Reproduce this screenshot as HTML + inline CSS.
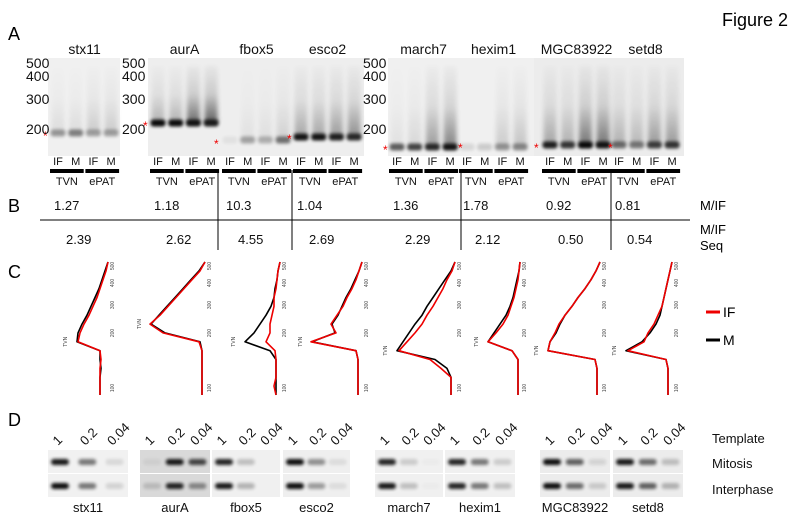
<!DOCTYPE html>
<html><head><meta charset="utf-8"><style>
body{margin:0;background:#fff;}
svg{display:block;font-family:"Liberation Sans",Arial,sans-serif;}
</style></head><body>
<svg id="fig" width="792" height="522" viewBox="0 0 792 522">
<defs>
<filter id="bl" x="-50%" y="-50%" width="200%" height="200%"><feGaussianBlur stdDeviation="1.6"/></filter>
<filter id="bl2" x="-50%" y="-50%" width="200%" height="200%"><feGaussianBlur stdDeviation="2.5"/></filter>
<linearGradient id="sg" x1="0" y1="0" x2="0" y2="1">
<stop offset="0" stop-color="#000" stop-opacity="0.05"/>
<stop offset="0.5" stop-color="#000" stop-opacity="0.25"/>
<stop offset="1" stop-color="#000" stop-opacity="1"/>
</linearGradient>
</defs>
<text x="722" y="26" font-size="18">Figure 2</text>
<text x="8" y="40" font-size="18">A</text>
<text x="8" y="212" font-size="18">B</text>
<text x="8" y="278" font-size="18">C</text>
<text x="8" y="426" font-size="18">D</text>

<rect x="48" y="58" width="72" height="98" fill="#f0f0f0"/>
<rect x="148" y="58" width="216" height="98" fill="#eeeeee"/>
<rect x="388" y="58" width="146" height="98" fill="#f0f0f0"/>
<rect x="534" y="58" width="150" height="98" fill="#ececec"/>
<g id="gelA"></g>
<g id="ladders" font-size="14" fill="#111">
<text x="26" y="68">500</text>
<text x="26" y="81">400</text>
<text x="26" y="104">300</text>
<text x="26" y="134">200</text>
<text x="122" y="68">500</text>
<text x="122" y="81">400</text>
<text x="122" y="104">300</text>
<text x="122" y="134">200</text>
<text x="363" y="68">500</text>
<text x="363" y="81">400</text>
<text x="363" y="104">300</text>
<text x="363" y="134">200</text>
</g>
<g id="geneA" font-size="14" fill="#111" text-anchor="middle"></g>
<g id="laneLbl" font-size="11" fill="#111" text-anchor="middle"></g>

<g font-size="13" fill="#111" id="rowB"></g>
<line x1="40" y1="220" x2="690" y2="220" stroke="#000" stroke-width="1"/>
<g stroke="#000" stroke-width="1">
<line x1="218" y1="170" x2="218" y2="250"/>
<line x1="292" y1="170" x2="292" y2="250"/>
<line x1="461" y1="170" x2="461" y2="250"/>
<line x1="611" y1="170" x2="611" y2="250"/>
</g>
<text x="700" y="210" font-size="13">M/IF</text>
<text x="700" y="234" font-size="13">M/IF</text>
<text x="700" y="250" font-size="13">Seq</text>

<g id="traces"></g>
<line x1="706" y1="312" x2="720" y2="312" stroke="#e00" stroke-width="3"/>
<text x="723" y="317" font-size="14">IF</text>
<line x1="706" y1="340" x2="720" y2="340" stroke="#000" stroke-width="3"/>
<text x="723" y="345" font-size="14">M</text>

<g id="gelD"></g>
<g font-size="13" fill="#111">
<text x="712" y="443">Template</text>
<text x="712" y="468">Mitosis</text>
<text x="712" y="494">Interphase</text>
</g>
</svg>
<script>
const bValues = ["1.27","1.18","10.3","1.04","1.36","1.78","0.92","0.81"];
const bSeq = ["2.39","2.62","4.55","2.69","2.29","2.12","0.50","0.54"];
const genes = ["stx11","aurA","fbox5","esco2","march7","hexim1","MGC83922","setd8"];
const traceM = [
 [0,3,6,9,13,17,21,26,30,31,8,8,7,8,8,8],
 [0,6,14,22,30,38,46,54,40,5,3,3,3,3,3,3],
 [0,2,3,5,6,9,14,20,26,35,10,4,4,4,4,4],
 [0,3,7,11,16,20,24,30,27,50,6,4,4,4,4,4],
 [0,4,10,16,22,28,33,40,46,52,58,20,8,4,4,4],
 [0,1,3,5,7,10,14,20,26,32,8,2,2,2,2,2],
 [0,4,9,15,22,28,35,40,44,50,52,5,3,3,3,3],
 [0,2,4,6,8,10,12,16,22,30,46,6,4,4,4,4]];
const traceIF = [
 [0,2,5,8,11,15,19,24,28,30,8,7,8,8,8,8],
 [0,5,13,21,29,37,45,55,42,6,3,3,3,3,3,3],
 [0,2,3,4,6,6,8,10,10,14,5,4,4,4,6,4],
 [0,3,6,10,15,19,25,31,26,51,6,4,4,4,4,4],
 [0,3,8,12,17,22,28,33,40,48,56,25,14,4,4,4],
 [0,1,2,4,6,9,12,17,24,32,8,2,2,2,2,2],
 [0,4,9,15,22,28,35,41,45,50,52,5,3,3,3,3],
 [0,2,4,6,8,10,14,18,24,28,44,6,4,4,4,4]];
const axisTicks = ["500","400","300","200","100"];

const NS="http://www.w3.org/2000/svg";
function mk(t,a,p){const e=document.createElementNS(NS,t);for(const k in a)e.setAttribute(k,a[k]);p.appendChild(e);return e;}

const laneStart=[58,158,230,301,397,467,550,619];
const laneGap=17.7;
const bandY=[133,123,140,137,147,147,145,145];
const dark=[[.35,.45,.3,.3],[.95,.95,.9,.85],[.05,.3,.25,.5],[.9,.9,.85,.8],[.6,.7,.8,.9],[.1,.15,.35,.4],[.85,.75,.95,.9],[.5,.45,.7,.75]];
const smear=[[.08,.08,.15,.15],[.25,.25,.55,.6],[0,.05,.06,.12],[.3,.3,.35,.4],[.06,.1,.35,.45],[0,0,.15,.18],[.3,.25,.5,.5],[.25,.22,.35,.35]];
const gA=document.getElementById('gelA');
const gG=document.getElementById('geneA');
const gL=document.getElementById('laneLbl');
const gB=document.getElementById('rowB');
for(let g=0;g<8;g++){
  const x0=laneStart[g];
  for(let l=0;l<4;l++){
    const cx=x0+l*laneGap;
    const s=smear[g][l];
    const sm=mk('rect',{x:cx-6.5,y:66,width:13,height:bandY[g]-66,fill:'url(#sg)',opacity:s,filter:'url(#bl2)'},gA);
    
    
    const b=mk('rect',{x:cx-7.5,y:bandY[g]-3.5,width:15,height:7,rx:3,fill:'#000',opacity:dark[g][l],filter:'url(#bl)'},gA);
    
    
    const t=mk('text',{x:cx,y:165},gL);t.textContent=(l%2==0)?'IF':'M';
    
    
  }
  const cx=x0+1.5*laneGap;
  const gt=mk('text',{x:cx,y:54},gG);gt.textContent=genes[g];
  
  
  for(let k=0;k<2;k++){
    const bx=x0+k*2*laneGap-8;
    const r=mk('rect',{x:bx,y:169,width:laneGap+16,height:4,fill:'#000'},gL);
    
    
    const tt=mk('text',{x:bx+(laneGap+16)/2,y:185},gL);tt.textContent=k?'ePAT':'TVN';
    
    
  }
  const v=mk('text',{x:x0-4,y:210},gB);v.textContent=bValues[g];
  
  
  const v2=mk('text',{x:x0+8,y:244},gB);v2.textContent=bSeq[g];
  
  
}
const starX=[46,146,217,290,386,461,537,611];
const starY=[136,126,144,139,150,148,148,148];
for(let i=0;i<8;i++){const s=mk('text',{x:starX[i]-3,y:starY[i]+4,fill:'#e00','font-size':12},gA);s.textContent='*';

}

const axisX=[108,205,280,362,455,520,600,672];
const yTop=262,yBot=395;
function yScale(i,n){return yTop+(yBot-yTop)*i/(n-1);}
function xScale(p,v){return axisX[p]-v;}
const gT=document.getElementById('traces');
for(let p=0;p<8;p++){
  for(const [arr,col,nm] of [[traceM,'#000','trace-m'],[traceIF,'#e00','trace-if']]){
    const pts=arr[p].map((v,i)=>xScale(p,v).toFixed(1)+','+yScale(i,arr[p].length).toFixed(1)).join(' ');
    const pl=mk('polyline',{points:pts,fill:'none',stroke:col,'stroke-width':1.6,'stroke-linejoin':'round'},gT);
    
    
  }
  axisTicks.forEach((t,i)=>{
    const y=[266,283,305,333,388][i];
    const tx=mk('text',{x:0,y:0,'font-size':5,fill:'#444',transform:`translate(${axisX[p]+6},${y}) rotate(-90)`,'text-anchor':'middle'},gT);
    tx.textContent=t;
    
    
  });
  const pk=arr=>{let m=0,mi=0;arr.forEach((v,i)=>{if(v>m){m=v;mi=i;}});return mi;};
  const pi=pk(traceM[p]);
  const py=yScale(pi,16);
  const tv=mk('text',{x:0,y:0,'font-size':5,fill:'#444',transform:`translate(${xScale(p,traceM[p][pi])-10},${py}) rotate(-90)`,'text-anchor':'middle'},gT);
  tv.textContent='TVN';
  
  
}

const gD=document.getElementById('gelD');
const dBlocks=[[48,128,'#f1f1f1'],[140,210,'#d9d9d9'],[212,280,'#f0f0f0'],[283,350,'#efefef'],[375,443,'#f0f0f0'],[445,515,'#f0f0f0'],[540,610,'#ececec'],[613,683,'#ececec']];
const dMit=[[.9,.5,.1],[.05,.9,.7],[.85,.2,0],[.95,.4,.08],[.85,.15,.02],[.85,.5,.15],[.95,.6,.1],[.9,.55,.2]];
const dInt=[[.95,.5,.12],[.15,.85,.4],[.9,.25,0],[.95,.35,.08],[.9,.2,.02],[.85,.5,.2],[.95,.55,.15],[.9,.6,.25]];
const dRatio=["1","0.2","0.04"];
for(let g=0;g<8;g++){
  const [x1,x2,c]=dBlocks[g];
  for(const [y0,vals] of [[450,dMit[g]],[474,dInt[g]]]){
    const r=mk('rect',{x:x1,y:y0,width:x2-x1,height:23,fill:c},gD);
    
    
    vals.forEach((d,i)=>{
      const cx=x1+12+i*(x2-x1-20)/2.2;
      const b=mk('rect',{x:cx-9,y:y0+9,width:18,height:6,rx:3,fill:'#000',opacity:d,filter:'url(#bl)'},gD);
      
      
    });
  }
  dRatio.forEach((t,i)=>{
    const cx=x1+10+i*(x2-x1-20)/2.2;
    const tx=mk('text',{x:0,y:0,'font-size':13,fill:'#111',transform:`translate(${cx},446) rotate(-45)`},gD);
    tx.textContent=t;
    
    
  });
  const nm=mk('text',{x:(x1+x2)/2,y:512,'font-size':13,fill:'#111','text-anchor':'middle'},gD);
  nm.textContent=genes[g];
  
  
}
</script>
</body></html>
